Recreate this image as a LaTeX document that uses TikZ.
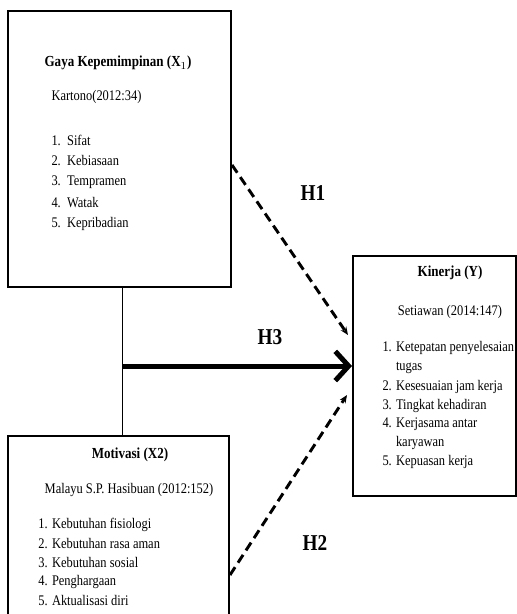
\documentclass[tikz,border=0pt]{standalone}
\usepackage{fontspec}
\setmainfont{Liberation Serif}[FakeStretch=0.85]
\usetikzlibrary{arrows.meta}
\tikzset{every picture/.style={line width=0.75pt}}

\begin{document}
\begin{tikzpicture}[x=0.75pt,y=0.75pt,yscale=-1,xscale=1,
  varbox/.style={draw, line width=1.5pt, inner sep=0pt},
  boxtitle/.style={inner sep=0.75pt, font=\bfseries\fontsize{11.5}{13}\selectfont},
  boxtext/.style={inner sep=0.75pt, font=\fontsize{11}{13}\selectfont},
  hlabel/.style={inner sep=0.75pt, font=\bfseries\fontsize{17}{20}\selectfont},
  dasharrow/.style={line width=2.2pt, dash pattern=on 7pt off 4pt, -{Stealth[length=6pt,width=5pt]}},
  mainarrow/.style={line width=3.75pt, -{Straight Barb[length=10pt,width=22pt]}}]
\useasboundingbox (0,0) rectangle (517,614);
\clip (0,0) rectangle (517,614);

% Boxes
\node [varbox, minimum width=167.25pt, minimum height=207pt] (x1box) at (119.5,149) {};
\node [varbox, minimum width=165.75pt, minimum height=160.5pt] (x2box) at (118.5,543) {};
\node [varbox, minimum width=122.25pt, minimum height=180pt] (ybox) at (434.5,376) {};

% Gaya Kepemimpinan
\node [boxtitle] (x1title) at (118,63) {Gaya Kepemimpinan (X$_1$)};
\node [boxtext, anchor=west] (x1src) at (50,97) {Kartono(2012:34)};
\foreach \t [count=\i] in {Sifat, Kebiasaan, Tempramen, Watak, Kepribadian}
  \node [boxtext, anchor=west] (x1item\i) at (50,119+21*\i) {\i.\ \ \t};

% Motivasi
\node [boxtitle] (x2title) at (130,455) {Motivasi (X2)};
\node [boxtext] (x2src) at (129,490) {Malayu S.P. Hasibuan (2012:152)};
\foreach \t [count=\i] in {Kebutuhan fisiologi, Kebutuhan rasa aman, Kebutuhan sosial, Penghargaan, Aktualisasi diri}
  \node [boxtext, anchor=west] (x2item\i) at (37,506+19*\i) {\i. \t};

% Kinerja
\node [boxtitle] (ytitle) at (450,273) {Kinerja (Y)};
\node [boxtext] (ysrc) at (450,312) {Setiawan (2014:147)};
\foreach \yy/\t [count=\i] in {348/{1. Ketepatan penyelesaian}, 367/{\phantom{1. }tugas}, 387/{2. Kesesuaian jam kerja}, 406/{3. Tingkat kehadiran}, 424/{4. Kerjasama antar}, 443/{\phantom{4. }karyawan}, 462/{5. Kepuasan kerja}}
  \node [boxtext, anchor=west] (yline\i) at (381,\yy) {\t};

% Connectors
\coordinate (jn) at (122,366);
\draw (x1box.south -| jn) -- (x2box.north -| jn);
\draw [mainarrow] (jn) -- (ybox.west |- jn);
\coordinate (h1a) at (x1box.east |- 0,165);
\coordinate (h1b) at (348,335);
\draw [dasharrow] (h1a) -- (h1b);
\coordinate (h2a) at (x2box.east |- 0,575);
\coordinate (h2b) at (347,395);
\draw [dasharrow] (h2a) -- (h2b);

% Labels
\node [hlabel] (h1) at (313,193) {H1};
\node [hlabel] (h3) at (270,337) {H3};
\node [hlabel] (h2) at (315,543) {H2};

\end{tikzpicture}
\end{document}
